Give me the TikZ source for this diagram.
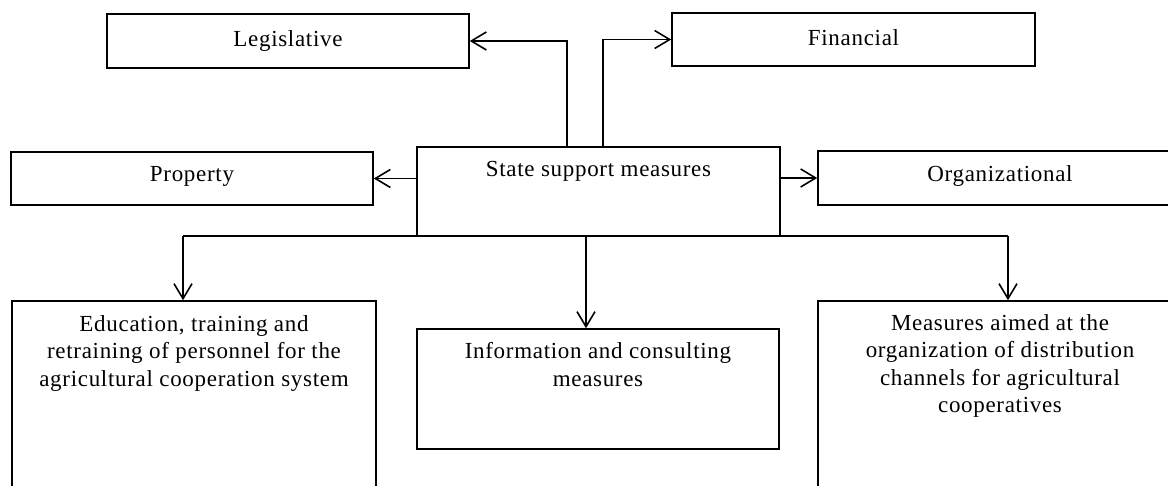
\documentclass[tikz,border=0pt]{standalone}
\usepackage{fontspec}
\setmainfont{Liberation Serif}[LetterSpace=3]
\usetikzlibrary{arrows.meta}
\tikzset{
  box/.style={draw, line width=1.6pt, rectangle, inner sep=0pt},
  txt/.style={inner sep=0pt, align=center, font=\fontsize{23}{27.5}\selectfont},
  conn/.style={line width=1.6pt},
  arr/.style={conn, -{Straight Barb[length=15pt,width=18pt,line width=1.6pt]}}
}
\begin{document}
\begin{tikzpicture}[x=1pt,y=-1pt]
\useasboundingbox (0,0) rectangle (1168,486);
\clip (0,0) rectangle (1168,486);
\fill[white] (0,0) rectangle (1168,486);
% boxes
\node[box, minimum width=362pt, minimum height=54pt] (leg) at (288,41) {};
\node[box, minimum width=363pt, minimum height=53pt] (fin) at (853.5,39.5) {};
\node[box, minimum width=362pt, minimum height=53pt] (prop) at (192,178.5) {};
\node[box, minimum width=364pt, minimum height=54pt] (org) at (1000,178) {};
\node[box, minimum width=363pt, minimum height=89pt] (cen) at (598.5,191.5) {};
\node[box, minimum width=364pt, minimum height=200pt] (edu) at (194,401) {};
\node[box, minimum width=362pt, minimum height=120pt] (info) at (598,389) {};
\node[box, minimum width=364pt, minimum height=200pt] (meas) at (1000,401) {};
% texts
\node[txt] (legt) at (leg.center) {Legislative};
\node[txt] (fint) at ([yshift=2pt]fin.center) {Financial};
\node[txt] (propt) at ([yshift=2pt]prop.center) {Property};
\node[txt] (orgt) at ([yshift=2pt]org.center) {Organizational};
\node[txt, anchor=north] (cent) at ([yshift=-15pt]cen.north) {State support measures};
\node[txt, anchor=north] (edut) at ([yshift=-15pt]edu.north) {Education, training and\\retraining of personnel for the\\agricultural cooperation system};
\node[txt, anchor=north] (infot) at ([yshift=-14pt]info.north) {Information and consulting\\measures};
\node[txt, anchor=north] (meast) at ([yshift=-14pt]meas.north) {Measures aimed at the\\organization of distribution\\channels for agricultural\\cooperatives};
% connectors
\draw[arr] ([xshift=-31.5pt]cen.north) |- (leg.east);
\draw[arr] ([xshift=4.5pt]cen.north) |- (fin.west);
\draw[arr] (cen.west |- prop.east) -- (prop.east);
\draw[arr] (cen.east |- org.west) -- (org.west);
\coordinate (bl) at (183,236);
\coordinate (bm) at (586,236);
\coordinate (br) at (1008,236);
\draw[conn] (bl) -- (br);
\draw[arr] (bl) -- (bl |- edu.north);
\draw[arr] (bm) -- (bm |- info.north);
\draw[arr] (br) -- (br |- meas.north);
\end{tikzpicture}
\end{document}
